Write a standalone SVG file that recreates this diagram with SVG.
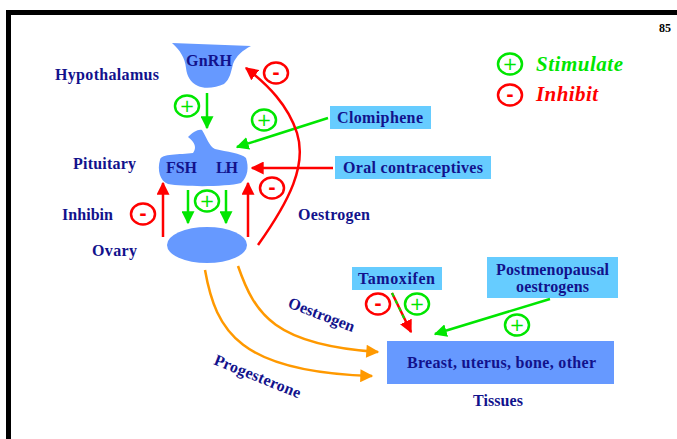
<svg xmlns="http://www.w3.org/2000/svg" width="677" height="439" viewBox="0 0 677 439">
<style>
.lbl{font-family:"Liberation Serif","Times New Roman",serif;font-weight:bold;font-size:16px;fill:#12128c}
.sym{font-family:"DejaVu Sans",sans-serif;font-size:18px;text-anchor:middle}
.gc{fill:none;stroke:#00e600;stroke-width:2.5}
.rc{fill:none;stroke:#ff0000;stroke-width:2.5}
.g{stroke:#00e600;stroke-width:2.5;fill:none}
.r{stroke:#ff0000;stroke-width:2.5;fill:none}
.o{stroke:#ff9900;stroke-width:2.5;fill:none}
.box{fill:#66ccff}
.blue{fill:#6699ff}
.leg{font-family:"Liberation Serif","Times New Roman",serif;font-weight:bold;font-style:italic;font-size:21px}
</style>
<defs>
<marker id="ag" viewBox="0 0 10 10" refX="9" refY="5" markerWidth="13" markerHeight="13" markerUnits="userSpaceOnUse" orient="auto"><path d="M0,0 L10,5 L0,10 z" fill="#00e600"/></marker>
<marker id="ar" viewBox="0 0 10 10" refX="9" refY="5" markerWidth="13" markerHeight="13" markerUnits="userSpaceOnUse" orient="auto"><path d="M0,0 L10,5 L0,10 z" fill="#ff0000"/></marker>
<marker id="ao" viewBox="0 0 10 10" refX="9" refY="5" markerWidth="14" markerHeight="13" markerUnits="userSpaceOnUse" orient="auto"><path d="M0,0 L10,5 L0,10 z" fill="#ff9900"/></marker>
</defs>
<rect width="677" height="439" fill="#ffffff"/>
<rect x="6" y="10" width="671" height="5" fill="#000"/>
<rect x="6" y="10" width="5" height="429" fill="#000"/>
<text x="671" y="32" text-anchor="end" style="font-family:'Liberation Serif',serif;font-weight:bold;font-size:12px;fill:#000">85</text>

<g id="hypothalamus">
<path class="blue" d="M172,43 L251,46 C243,50 236,56 233,64 C231,72 230,79 224,84 C216,88 204,89 198,86 C190,82 187,76 186,68 C185,58 180,50 172,43 Z"/>
<text class="lbl" x="209" y="66" text-anchor="middle" textLength="46" lengthAdjust="spacing">GnRH</text>
<text class="lbl" x="55" y="80" textLength="104" lengthAdjust="spacing">Hypothalamus</text>
</g>

<g id="pituitary">
<path class="blue" d="M160,160 C161,153 180,155 193,153 C197,148 195,142 188,137 C193,132 198,129 202,130 C207,138 209,146 215,149 C227,152 241,153 246,158 C249,167 248,177 241,183 C226,187 185,187 168,184 C160,181 157,170 160,160 Z"/>
<text class="lbl" x="166" y="173" textLength="31" lengthAdjust="spacing">FSH</text>
<text class="lbl" x="216" y="173" textLength="22" lengthAdjust="spacing">LH</text>
<text class="lbl" x="73" y="169" textLength="63" lengthAdjust="spacing">Pituitary</text>
</g>

<g id="ovary">
<ellipse class="blue" cx="207" cy="245" rx="40" ry="18"/>
<text class="lbl" x="92" y="256" textLength="45" lengthAdjust="spacing">Ovary</text>
<text class="lbl" x="62" y="220" textLength="51" lengthAdjust="spacing">Inhibin</text>
<text class="lbl" x="298" y="220" textLength="72" lengthAdjust="spacing">Oestrogen</text>
</g>

<g id="clomiphene">
<rect class="box" x="330" y="106" width="101" height="23"/>
<text class="lbl" x="337" y="123" textLength="86" lengthAdjust="spacing">Clomiphene</text>
</g>

<g id="oral-contraceptives">
<rect class="box" x="335" y="156" width="156" height="23"/>
<text class="lbl" x="343" y="173" textLength="140" lengthAdjust="spacing">Oral contraceptives</text>
</g>

<g id="tamoxifen">
<rect class="box" x="352" y="267" width="90" height="23"/>
<text class="lbl" x="358" y="284" textLength="77" lengthAdjust="spacing">Tamoxifen</text>
</g>

<g id="postmenopausal">
<rect class="box" x="487" y="257" width="131" height="41"/>
<text class="lbl" x="496" y="275" textLength="113" lengthAdjust="spacing">Postmenopausal</text>
<text class="lbl" x="516" y="292" textLength="73" lengthAdjust="spacing">oestrogens</text>
</g>

<g id="tissues">
<rect class="blue" x="387" y="341" width="227" height="43"/>
<text class="lbl" x="407" y="368" textLength="189" lengthAdjust="spacing">Breast, uterus, bone, other</text>
<text class="lbl" x="473" y="406" textLength="50" lengthAdjust="spacing">Tissues</text>
</g>

<g id="legend">
<ellipse class="gc" cx="510" cy="64" rx="12" ry="10.5"/>
<text class="sym" x="510" y="70" fill="#00e600">+</text>
<text class="leg" x="536" y="71" fill="#00e600" textLength="87" lengthAdjust="spacing">Stimulate</text>
<ellipse class="rc" cx="510" cy="95" rx="12" ry="10.5"/>
<text class="sym" x="510" y="101" fill="#ff0000" style="font-weight:bold">-</text>
<text class="leg" x="536" y="101" fill="#ff0000" textLength="62" lengthAdjust="spacing">Inhibit</text>
</g>

<g id="connectors">
<line class="g" x1="207" y1="93" x2="207" y2="128" marker-end="url(#ag)"/>
<line class="g" x1="328" y1="118" x2="237" y2="147" marker-end="url(#ag)"/>
<line class="r" x1="333" y1="168" x2="252" y2="168" marker-end="url(#ar)"/>
<line class="r" x1="163" y1="237" x2="163" y2="183" marker-end="url(#ar)"/>
<line class="r" x1="248" y1="237" x2="248" y2="183" marker-end="url(#ar)"/>
<line class="g" x1="188" y1="190" x2="188" y2="223" marker-end="url(#ag)"/>
<line class="g" x1="226" y1="190" x2="226" y2="223" marker-end="url(#ag)"/>
<path class="r" d="M258,245 C290,200 307,165 297,133 C288,105 268,85 246,68" marker-end="url(#ar)"/>
<path class="o" d="M238,266 C255,315 275,345 378,352" marker-end="url(#ao)"/>
<path class="o" d="M205,270 C216,332 240,372 372,376" marker-end="url(#ao)"/>
<line class="r" x1="392" y1="293" x2="411" y2="332" marker-end="url(#ar)"/>
<line x1="392" y1="293" x2="405" y2="320" stroke="#00e600" stroke-width="2" stroke-dasharray="4 4"/>
<line class="g" x1="550" y1="299" x2="435" y2="334" marker-end="url(#ag)"/>

<ellipse class="gc" cx="187" cy="106" rx="12" ry="10.5"/>
<text class="sym" x="187" y="112" fill="#00e600">+</text>
<ellipse class="gc" cx="264" cy="120" rx="12" ry="10.5"/>
<text class="sym" x="264" y="126" fill="#00e600">+</text>
<ellipse class="rc" cx="276" cy="73" rx="12" ry="10.5"/>
<text class="sym" x="276" y="79" fill="#ff0000" style="font-weight:bold">-</text>
<ellipse class="rc" cx="272" cy="188" rx="12" ry="10.5"/>
<text class="sym" x="272" y="194" fill="#ff0000" style="font-weight:bold">-</text>
<ellipse class="rc" cx="143" cy="214" rx="12" ry="10.5"/>
<text class="sym" x="143" y="220" fill="#ff0000" style="font-weight:bold">-</text>
<ellipse class="gc" cx="207" cy="201" rx="12" ry="10.5"/>
<text class="sym" x="207" y="207" fill="#00e600">+</text>
<ellipse class="rc" cx="378" cy="304" rx="12" ry="10.5"/>
<text class="sym" x="378" y="310" fill="#ff0000" style="font-weight:bold">-</text>
<ellipse class="gc" cx="417" cy="304" rx="12" ry="10.5"/>
<text class="sym" x="417" y="310" fill="#00e600">+</text>
<ellipse class="gc" cx="517" cy="325" rx="12" ry="10.5"/>
<text class="sym" x="517" y="331" fill="#00e600">+</text>

<text class="lbl" transform="translate(287,307) rotate(21)" textLength="70" lengthAdjust="spacing">Oestrogen</text>
<text class="lbl" transform="translate(213,364) rotate(22)" textLength="92" lengthAdjust="spacing">Progesterone</text>
</g>
</svg>
